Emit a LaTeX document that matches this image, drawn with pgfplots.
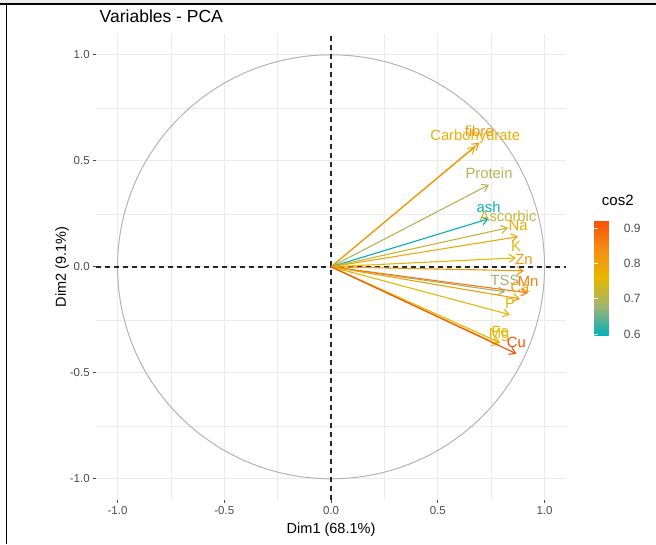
\documentclass[border=0pt]{standalone}
\usepackage{pgfplots}
\pgfplotsset{compat=1.18}
\usepackage{pgfplotstable}
\usepackage{fontspec}
\setmainfont{Liberation Sans}
\usetikzlibrary{arrows.meta}
\definecolor{gridc}{RGB}{235,235,235}
\definecolor{tickc}{RGB}{77,77,77}
\definecolor{circc}{RGB}{179,179,179}

\pgfplotstableread{
name dx dy cos2
Carbohydrate 0.675 0.566 0.776
fibre 0.694 0.585 0.824
Protein 0.740 0.387 0.697
ash 0.738 0.226 0.596
Ascorbic 0.829 0.184 0.721
Na 0.876 0.142 0.788
K 0.866 0.042 0.752
Zn 0.904 -0.019 0.818
TSS 0.815 -0.118 0.678
Mn 0.923 -0.123 0.867
Ca 0.885 -0.151 0.806
P 0.838 -0.226 0.753
Fe 0.792 -0.358 0.756
Mg 0.787 -0.368 0.755
Cu 0.868 -0.410 0.922
}\vars

\begin{document}
\begin{tikzpicture}
\useasboundingbox (0,0) rectangle (656pt,544pt);
\fill[gray!15] (0,541pt) rectangle (656pt,544pt);
\draw[line width=1.5pt] (0,540pt) -- (656pt,540pt);
\draw[line width=1.5pt] (6.7pt,0) -- (6.7pt,540pt);
\begin{axis}[
  at={(96.2pt,44pt)}, anchor=south west,
  x=213.5pt, y=212pt,
  xmin=-1.1, xmax=1.1, ymin=-1.1, ymax=1.1,
  axis line style={draw=none},
  xtick={-1,-0.5,0,0.5,1},
  ytick={-1,-0.5,0,0.5,1},
  xticklabels={-1.0,-0.5,0.0,0.5,1.0},
  yticklabels={-1.0,-0.5,0.0,0.5,1.0},
  minor xtick={-0.75,-0.25,0.25,0.75},
  minor ytick={-0.75,-0.25,0.25,0.75},
  grid=both,
  major grid style={draw=gridc, line width=0.9pt},
  minor grid style={draw=gridc, line width=0.5pt},
  xtick pos=bottom, ytick pos=left,
  tick align=outside,
  major tick length=3pt, minor tick length=0pt,
  major tick style={draw=tickc, line width=0.7pt},
  tick label style={font=\fontsize{11.5}{13}\selectfont, text=tickc},
  xlabel={Dim1 (68.1\%)},
  ylabel={Dim2 (9.1\%)},
  label style={font=\fontsize{14.5}{16}\selectfont},
  xlabel style={at={(axis description cs:0.5,-0.0643)}, anchor=center},
  ylabel style={at={(axis description cs:-0.0724,0.5)}, anchor=center},
  title={Variables - PCA},
  title style={at={(axis description cs:0,1)}, anchor=base west, yshift=5pt, font=\fontsize{17.5}{20}\selectfont},
  colormap={fvz}{rgb255(0cm)=(0,175,187); rgb255(1cm)=(158,180,115); rgb255(2cm)=(231,184,0); rgb255(3cm)=(244,142,20); rgb255(4cm)=(252,78,7)},
  point meta min=0.594, point meta max=0.923,
  colorbar,
  colorbar style={
    at={(parent axis.south east)}, anchor=south west,
    xshift=20pt, yshift=164pt,
    width=26pt, height=116pt,
    axis line style={draw=none},
    ytick={0.6,0.7,0.8,0.9},
    yticklabels={0.6,0.7,0.8,0.9},
    ytick pos=both, yticklabel pos=right,
    tick align=inside,
    major tick length=4pt,
    major tick style={draw=white, line width=0.6pt},
    yticklabel style={font=\fontsize{12}{14}\selectfont, text=tickc},
    title={cos2},
    title style={at={(0,1)}, anchor=base west, xshift=4pt, yshift=8pt, font=\fontsize{15}{17}\selectfont},
  },
]
\draw[circc, line width=1pt] (axis cs:0,0) ellipse [x radius=1, y radius=1];
\addplot[black!85, line width=1.5pt, dash pattern=on 5pt off 4pt] coordinates {(-1.1,0) (1.1,0)};
\addplot[black!85, line width=1.5pt, dash pattern=on 5pt off 4pt] coordinates {(0,-1.1) (0,1.1)};
\addplot[
  point meta=\thisrow{cos2},
  quiver={u=\thisrow{dx}, v=\thisrow{dy}, colored=mapped color,
    every arrow/.append style={line width=1.1pt, -{Straight Barb[length=6pt,width=8pt]}}},
] table[x expr=0, y expr=0] {\vars};
\addplot[
  only marks, mark=none,
  point meta=explicit symbolic,
  visualization depends on={\thisrow{cos2} \as \cc},
  nodes near coords={\pgfmathparse{(\cc-0.594)/0.329*1000}\pgfplotscolormapdefinemappedcolor{\pgfmathresult}\textcolor{mapped color}{\pgfplotspointmeta}},
  every node near coord/.append style={anchor=base, yshift=6pt, inner sep=0pt, font=\fontsize{14.8}{16}\selectfont},
] table[x=dx, y=dy, meta=name] {\vars};
\end{axis}
\end{tikzpicture}
\end{document}
